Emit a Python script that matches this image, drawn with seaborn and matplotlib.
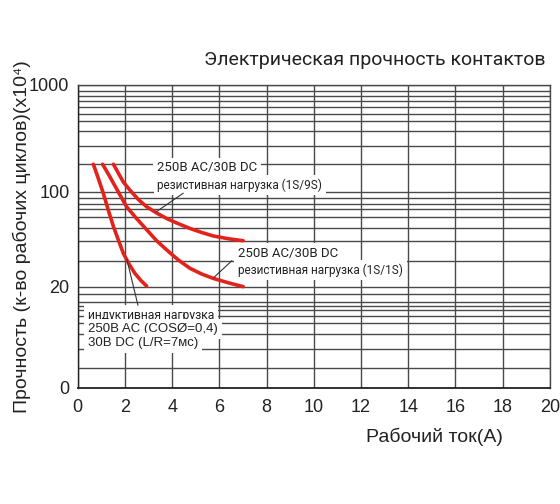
import numpy as np
import pandas as pd
import seaborn as sns
import matplotlib.pyplot as plt
from matplotlib.ticker import NullFormatter

sns.set_theme(style='white')
plt.rcParams['font.family'] = ['Liberation Sans', 'DejaVu Sans']

# curves: current (A) vs cycles (x10^4)
x_res_9s = [1.51, 1.72, 1.93, 2.21, 2.57, 2.92, 3.34, 3.77, 4.26, 4.75, 5.25, 5.74, 6.38, 7.01]
y_res_9s = [182, 150, 124, 104, 88, 78, 70.3, 64, 58.7, 54.2, 50.6, 47.7, 45.5, 44]
x_res_1s = [1.05, 1.29, 1.51, 1.79, 2.07, 2.49, 2.92, 3.34, 3.77, 4.26, 4.75, 5.25, 5.74, 6.38, 7.01]
y_res_1s = [182, 148, 121, 95, 78, 64, 53, 44, 37.6, 31.7, 27.5, 24.9, 23.1, 21.4, 20.0]
x_ind = [0.66, 0.87, 1.08, 1.29, 1.51, 1.72, 1.93, 2.18, 2.42, 2.68, 2.92]
y_ind = [182, 134, 98, 74, 56, 44.5, 35.5, 29.4, 25.2, 22.2, 20.2]

y_major = [0, 20, 100, 1000]
y_major_labels = ['0', '20', '100', '1000']
y_grid = [182, 270, 370, 460, 540, 630, 710, 790, 870,
          31, 44, 55, 66, 75, 82, 90,
          0.8, 2.2, 4, 6, 7.7, 9.4, 10.7, 12.4, 16]
x_ticks = list(range(0, 21, 2))

# uneven, schematic y axis: piecewise log between the labelled values
knot_pos = [0, 101.3, 196, 303]
knot_log = np.log10(np.array(y_major, float) + 1)

def fwd(v):
    return np.interp(np.log10(np.asarray(v, float) + 1), knot_log, knot_pos)

def inv(p):
    return 10 ** np.interp(np.asarray(p, float), knot_pos, knot_log) - 1

df = pd.concat([
    pd.DataFrame({'current': x_res_9s, 'cycles': y_res_9s, 'curve': '1S/9S'}),
    pd.DataFrame({'current': x_res_1s, 'cycles': y_res_1s, 'curve': '1S/1S'}),
    pd.DataFrame({'current': x_ind, 'cycles': y_ind, 'curve': 'ind'}),
])

red = '#e2231c'
grid_c = '#4a4a4a'
txt_c = '#222222'

fig = plt.figure(figsize=(5.6, 5.04), dpi=100)
ax = fig.add_axes([0.1389, 0.2302, 0.8429, 0.6012])

sns.lineplot(data=df, x='current', y='cycles', hue='curve',
             palette={'1S/9S': red, '1S/1S': red, 'ind': red},
             estimator=None, sort=False, lw=2.6, legend=False, ax=ax)

ax.set_yscale('function', functions=(fwd, inv))
ax.set_xlim(0, 20)
ax.set_ylim(0, 1000)
ax.set_xticks(x_ticks)
ax.set_xticklabels([str(t) for t in x_ticks])
ax.set_yticks(y_major)
ax.set_yticklabels(y_major_labels)
ax.set_yticks(y_grid, minor=True)
ax.yaxis.set_minor_formatter(NullFormatter())

ax.set_axisbelow(True)
ax.grid(True, which='both', axis='y', color=grid_c, lw=1.0)
ax.grid(True, which='major', axis='x', color=grid_c, lw=1.0)
for s in ax.spines.values():
    s.set_color(grid_c)
    s.set_linewidth(1.0)
ax.spines['bottom'].set_color(txt_c)
ax.spines['bottom'].set_linewidth(1.3)
ax.spines['left'].set_color(txt_c)

ax.tick_params(axis='y', which='both', length=2, color='#333333',
               labelsize=13, labelcolor=txt_c, pad=4)
ax.tick_params(axis='x', length=0, labelsize=13, labelcolor=txt_c, pad=8)

ax.set_xlabel('Рабочий ток(А)', fontsize=14, color=txt_c)
ax.xaxis.set_label_coords(0.756, -0.13)
ax.set_ylabel('Прочность (к-во рабочих циклов)(x10⁴)', fontsize=14, color=txt_c)
ax.yaxis.set_label_coords(-0.10, 0.5)

fig.text(0.974, 1 - 60 / 504, 'Электрическая прочность контактов',
         ha='right', va='center', fontsize=14, color=txt_c, family='Roboto')

box = dict(boxstyle='square,pad=0.3', facecolor='white', edgecolor='none')
lead = dict(arrowstyle='-', color='#333333', lw=0.8, shrinkA=0, shrinkB=0)

# 1S/9S label
ax.text(3.36, 168, '250В AC/30В DC', ha='left', va='center', fontsize=9.5,
        family='Roboto', color=txt_c, bbox=box)
ax.text(3.36, 116, 'резистивная нагрузка (1S/9S)', ha='left', va='center',
        fontsize=8.5, family='Roboto', color=txt_c, bbox=box)
ax.annotate('', xy=(3.34, 72), xytext=(4.47, 98), arrowprops=lead)

# 1S/1S label
ax.text(6.80, 35.7, '250В AC/30В DC', ha='left', va='center', fontsize=9.5,
        family='Roboto', color=txt_c, bbox=box)
ax.text(6.80, 26.7, 'резистивная нагрузка (1S/1S)', ha='left', va='center',
        fontsize=8.5, family='Roboto', color=txt_c, bbox=box)
ax.annotate('', xy=(5.77, 23.5), xytext=(6.53, 31.3), arrowprops=lead)

# inductive label
ax.text(0.43, 7.9, 'индуктивная нагрузка', ha='left', va='center',
        fontsize=8.7, family='Roboto', color=txt_c, bbox=box)
ax.text(0.43, 4.83, '250В AC (COSØ=0,4)', ha='left', va='center',
        fontsize=9.5, color=txt_c, bbox=box)
ax.text(0.43, 2.83, '30В DC (L/R=7мс)', ha='left', va='center',
        fontsize=9.5, color=txt_c, bbox=box)
ax.annotate('', xy=(2.08, 32), xytext=(2.55, 11), arrowprops=lead)

fig.savefig('out.png', dpi=100)
